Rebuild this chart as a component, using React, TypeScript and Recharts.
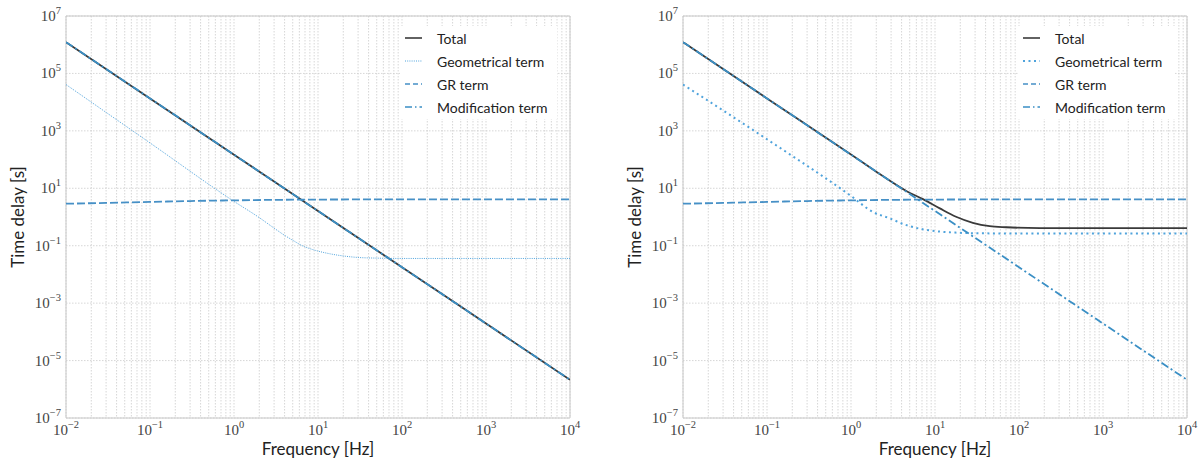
import React from 'react';
import { LineChart, Line, XAxis, YAxis, CartesianGrid, ReferenceArea } from 'recharts';

// frequency grids (Hz) for each curve
const decadeFreqs = [0.01, 0.1, 1, 10, 100, 1000, 10000];
const grFreqs = [0.01, 0.03, 0.1, 0.3, 1, 3, 10, 100, 1000, 10000];
const geoFreqsA = [0.01, 0.1, 1, 2, 3, 4, 5, 6.5, 8, 10, 14, 20, 30, 50, 100, 1000, 10000];
const geoFreqsB = [0.01, 0.1, 1, 1.82, 2.88, 4.57, 7.24, 11.5, 18, 28.2, 178, 1000, 10000];
const totalFreqsB = [0.01, 0.1, 1, 2, 3.2, 4.6, 7.2, 11.4, 17.8, 28.2, 44.7, 70.8, 178, 10000];

// time delays (s)
const modValues = [1.23e6, 1.35e4, 148, 1.62, 0.0178, 1.95e-4, 2.14e-6];
const grValues = [2.9, 3.1, 3.35, 3.6, 3.8, 3.95, 4.05, 4.1, 4.1, 4.1];
const geoValuesA = [4.1e4, 380, 3.5, 0.95, 0.41, 0.23, 0.155, 0.1, 0.079, 0.065, 0.052, 0.044, 0.039, 0.037, 0.036, 0.036, 0.036];
const geoValuesB = [4.1e4, 510, 5.4, 1.5, 0.9, 0.52, 0.37, 0.31, 0.285, 0.272, 0.265, 0.265, 0.265];
const totalValuesB = [1.23e6, 1.35e4, 150, 38, 15.3, 7.9, 4.2, 2.0, 1.02, 0.63, 0.48, 0.44, 0.41, 0.41];

// tick exponents
const xExponents = [-2, -1, 0, 1, 2, 3, 4];
const yExponents = [-7, -5, -3, -1, 1, 3, 5, 7];
const legendLabels = ['Total', 'Geometrical term', 'GR term', 'Modification term'];

const X_TICKS: number[] = [];
xExponents.forEach((e) => {
  if (e === 4) {
    X_TICKS.push(10 ** e);
    return;
  }
  for (let m = 1; m <= 9; m++) X_TICKS.push(m * 10 ** e);
});
const Y_TICKS = yExponents.map((e) => 10 ** e);

const TICK_FONT = '"Liberation Serif", "DejaVu Serif", serif';
const LABEL_FONT = 'Lato, "Open Sans", sans-serif';

const C_TOTAL = '#3a3a3a';
const C_GEO = '#4fa3dc';
const C_GR = '#4690c6';
const C_MOD = '#3a8fc5';

const rows = (f: number[], t: number[]) => f.map((v, i) => ({ f: v, t: t[i] }));

const sup = (e: number) => (e < 0 ? `\u2212${-e}` : `${e}`);

function XTick({ x, y, payload }: any) {
  const v = payload.value;
  const e = Math.round(Math.log10(v));
  if (Math.abs(v / 10 ** e - 1) > 1e-6) return <g />;
  return (
    <text x={x} y={y + 15} textAnchor="middle" fontFamily={TICK_FONT} fontSize={15} fill="#444">
      <tspan>10</tspan>
      <tspan dy={-7} fontSize={10.5}>{sup(e)}</tspan>
    </text>
  );
}

function YTick({ x, y, payload }: any) {
  const e = Math.round(Math.log10(payload.value));
  return (
    <text x={x - 3} y={y + 5} textAnchor="end" fontFamily={TICK_FONT} fontSize={15} fill="#444">
      <tspan>10</tspan>
      <tspan dy={-7} fontSize={10.5}>{sup(e)}</tspan>
    </text>
  );
}

interface PanelProps {
  left: number;
  yAxisWidth: number;
  marginRight: number;
  total: { f: number; t: number }[];
  geo: { f: number; t: number }[];
  geoDash: string;
  geoWidth: number;
  legendLeft: number;
}

function Panel({ left, yAxisWidth, marginRight, total, geo, geoDash, geoWidth, legendLeft }: PanelProps) {
  const mod = rows(decadeFreqs, modValues);
  const gr = rows(grFreqs, grValues);
  const labelX = yAxisWidth - 42;
  const samples = [
    { stroke: C_TOTAL, dash: undefined, width: 1.6 },
    { stroke: C_GEO, dash: geoDash, width: geoWidth },
    { stroke: C_GR, dash: '5 3', width: 1.6 },
    { stroke: C_MOD, dash: '7 3 1.5 3', width: 1.6 },
  ];
  return (
    <div style={{ position: 'absolute', left, top: 0, width: 600, height: 461 }}>
      <LineChart width={600} height={461} margin={{ top: 16, right: marginRight, bottom: 0, left: 0 }}>
        <CartesianGrid stroke="#cdcdcd" strokeDasharray="1.5 1.5" strokeWidth={0.8} />
        <ReferenceArea x1={0.01} x2={10000} y1={1e-7} y2={1e7} fill="none" stroke="#c8c8c8" strokeWidth={1} ifOverflow="visible" />
        <XAxis
          dataKey="f"
          type="number"
          scale="log"
          domain={[0.01, 10000]}
          ticks={X_TICKS}
          interval={0}
          height={43}
          axisLine={false}
          tickLine={false}
          tickSize={0}
          tick={<XTick />}
          allowDataOverflow
          label={{ value: 'Frequency [Hz]', position: 'insideBottom', offset: 6, fontFamily: LABEL_FONT, fontSize: 17, fill: '#222' }}
        />
        <YAxis
          dataKey="t"
          type="number"
          scale="log"
          domain={[1e-7, 1e7]}
          ticks={Y_TICKS}
          interval={0}
          width={yAxisWidth}
          axisLine={false}
          tickLine={false}
          tickSize={0}
          tick={<YTick />}
          allowDataOverflow
          label={{
            content: () => (
              <text x={labelX} y={217} transform={`rotate(-90 ${labelX} 217)`} textAnchor="middle" fontFamily={LABEL_FONT} fontSize={17} fill="#222">
                Time delay [s]
              </text>
            ),
          }}
        />
        <Line data={total} dataKey="t" type="monotone" stroke={C_TOTAL} strokeWidth={1.8} dot={false} isAnimationActive={false} />
        <Line data={geo} dataKey="t" type="monotone" stroke={C_GEO} strokeWidth={geoWidth} strokeDasharray={geoDash} dot={false} isAnimationActive={false} />
        <Line data={gr} dataKey="t" type="monotone" stroke={C_GR} strokeWidth={1.8} strokeDasharray="8 3" dot={false} isAnimationActive={false} />
        <Line data={mod} dataKey="t" type="monotone" stroke={C_MOD} strokeWidth={1.8} strokeDasharray="8 3 2 3" dot={false} isAnimationActive={false} />
      </LineChart>
      {/* Legend */}
      <div style={{ position: 'absolute', left: legendLeft - left, top: 26, width: 157, height: 93, background: '#fff' }}>
        {legendLabels.map((name, i) => (
          <div key={name} style={{ position: 'absolute', left: 0, top: 2 + i * 23, height: 20, display: 'flex', alignItems: 'center' }}>
            <svg width={37} height={20}>
              <line x1={5} x2={22} y1={10} y2={10} stroke={samples[i].stroke} strokeWidth={samples[i].width} strokeDasharray={samples[i].dash} />
            </svg>
            <span style={{ fontFamily: LABEL_FONT, fontSize: 14, color: '#222', whiteSpace: 'nowrap' }}>{name}</span>
          </div>
        ))}
      </div>
    </div>
  );
}

export default function App() {
  return (
    <div style={{ position: 'absolute', left: 0, top: 0, width: 1201, height: 461, background: '#fff' }}>
      <Panel
        left={0}
        yAxisWidth={66}
        marginRight={30}
        total={rows(decadeFreqs, modValues)}
        geo={rows(geoFreqsA, geoValuesA)}
        geoDash="1 1.2"
        geoWidth={1}
        legendLeft={400}
      />
      <Panel
        left={600}
        yAxisWidth={83}
        marginRight={13}
        total={rows(totalFreqsB, totalValuesB)}
        geo={rows(geoFreqsB, geoValuesB)}
        geoDash="2 3.5"
        geoWidth={2}
        legendLeft={1018}
      />
    </div>
  );
}
